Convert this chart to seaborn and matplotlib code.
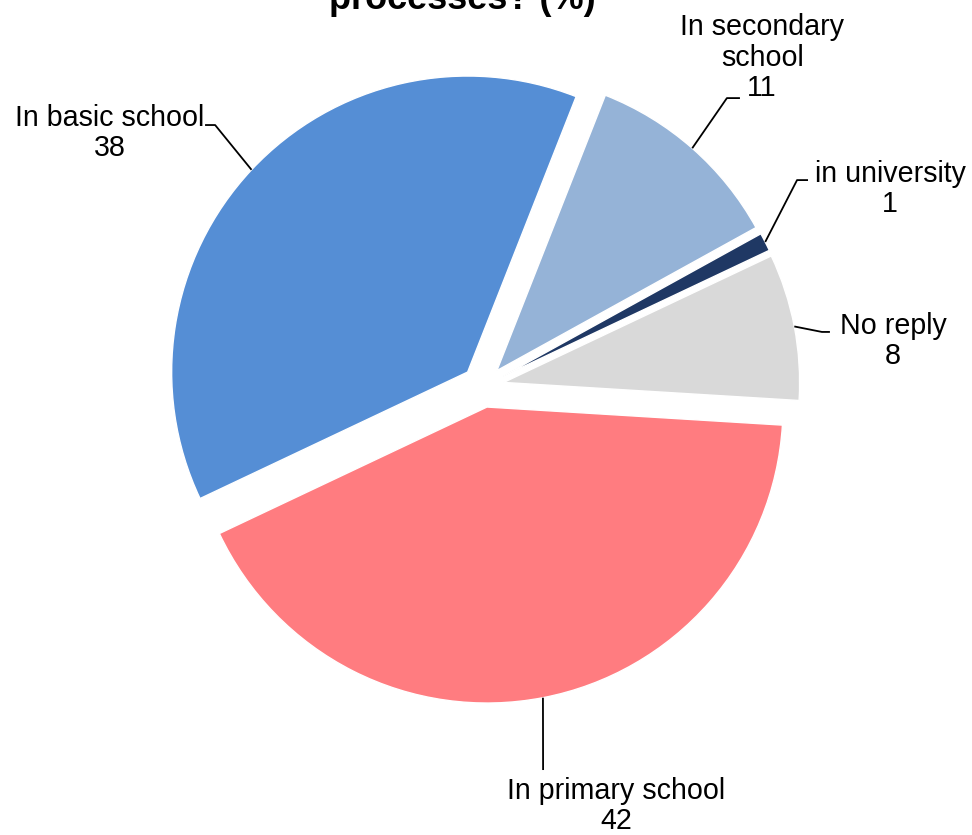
import numpy as np
import matplotlib
matplotlib.use("Agg")
import matplotlib.pyplot as plt
import seaborn as sns

# Data (order follows the pie clockwise, starting near 12 o'clock)
categories = ["In secondary\nschool", "in university", "No reply", "In primary school", "In basic school"]
values = [11, 1, 8, 42, 38]
colors = ["#95B3D7", "#1F3864", "#D9D9D9", "#FF7C80", "#558ED5"]
title_text = "processes? (%)"

# label layout (data coords, pie radius = 1)
label_pos = [(0.943, 1.111), (1.375, 0.667), (1.385, 0.153), (0.450, -1.417), (-1.260, 0.856)]
leader_bend = [(0.824, 0.974), (1.061, 0.697), (1.145, 0.184), None, (-0.905, 0.883)]
leader_end = [(0.868, 0.974), (1.098, 0.697), (1.172, 0.184), (0.203, -1.296), (-0.939, 0.883)]

sns.set_theme(style="white")
plt.rcParams['font.family'] = ['Liberation Sans', 'DejaVu Sans']

W, H = 972, 835
fig = plt.figure(figsize=(W / 100, H / 100), dpi=100)
ax = fig.add_axes([0, 0, 1, 1])

R = 296.0
cx, cy = 483.0, 386.4
wedges, _ = ax.pie(values, colors=sns.color_palette(colors), startangle=68.5,
                   counterclock=False, explode=[0.071] * len(values),
                   wedgeprops=dict(linewidth=1.0, edgecolor="white"))

ax.set_xlim(-cx / R, (W - cx) / R)
ax.set_ylim(-(H - cy) / R, cy / R)
ax.set_aspect('auto')
ax.axis('off')

for w, lab, val, pos, bend, end in zip(wedges, categories, values, label_pos, leader_bend, leader_end):
    mid = np.deg2rad((w.theta1 + w.theta2) / 2)
    x0 = w.center[0] + w.r * np.cos(mid)
    y0 = w.center[1] + w.r * np.sin(mid)
    pts = [(x0, y0)] + ([bend] if bend is not None else []) + [end]
    xs, ys = zip(*pts)
    ax.plot(xs, ys, color="black", lw=1.3, solid_capstyle="butt")
    ax.text(pos[0], pos[1], f"{lab}\n{val}", ha="center", va="center",
            fontsize=20.6, linespacing=1.1, color="black")

# title is partly above the top edge, as in the original
fig.text(462 / W, 1 - 9 / H, title_text, ha="center", va="baseline",
         fontsize=26, fontweight="bold", color="black")

fig.savefig("out.png", dpi=100)
